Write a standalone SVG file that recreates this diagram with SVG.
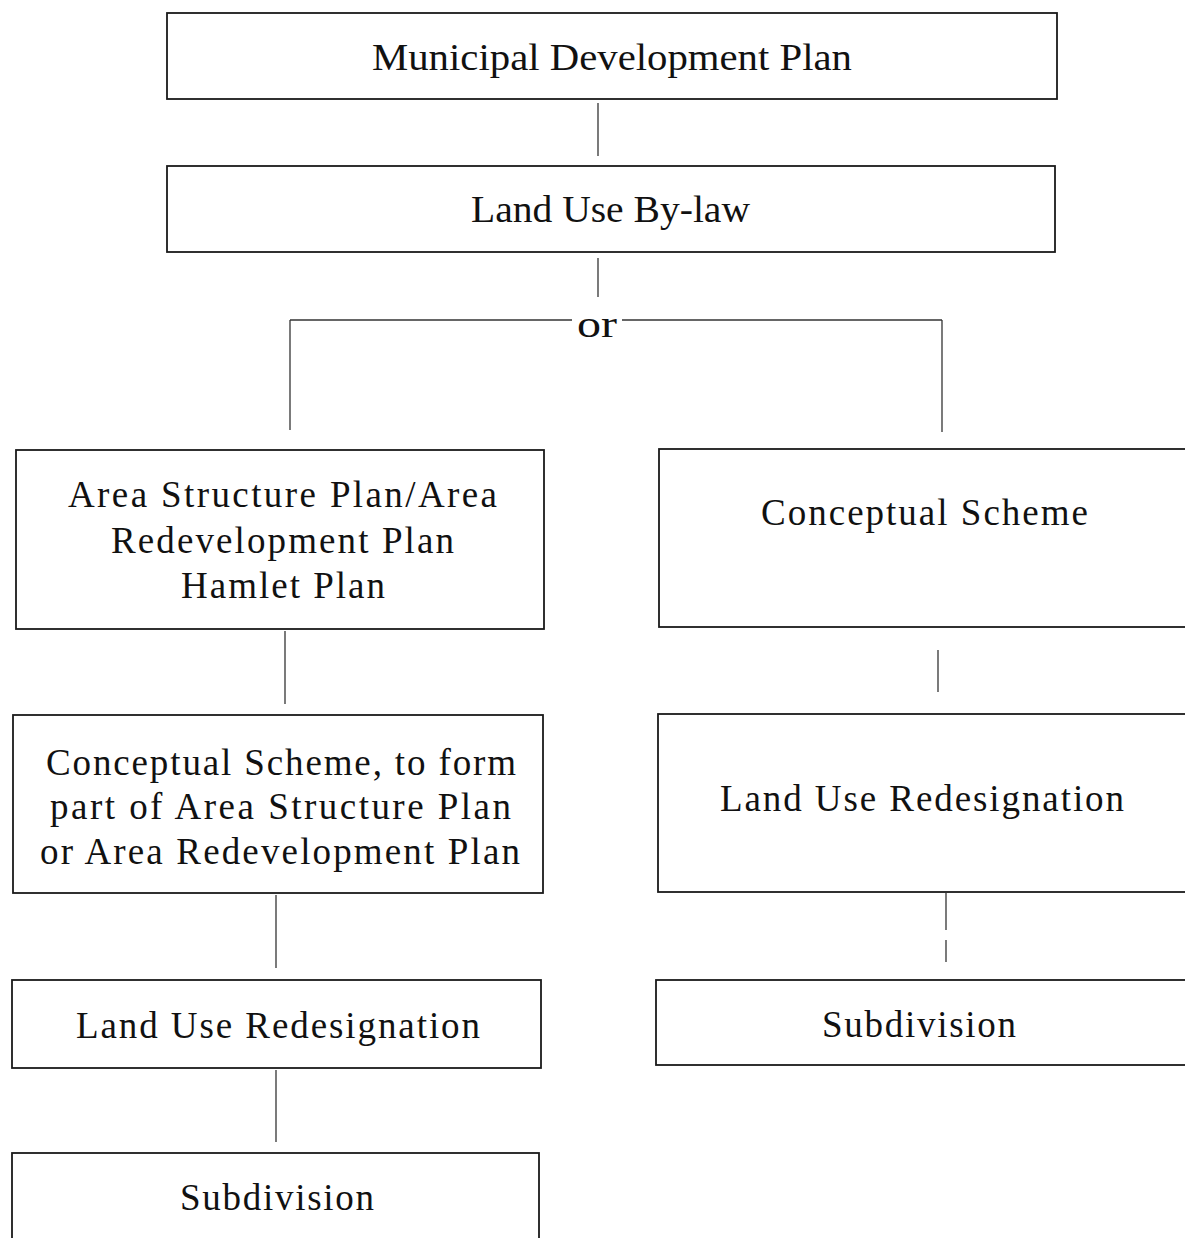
<svg xmlns="http://www.w3.org/2000/svg" width="1185" height="1238" viewBox="0 0 1185 1238">
<style>
.box{fill:#fff;stroke:#1a1a1a;stroke-width:1.8}
.t{font-family:"Liberation Serif","Times New Roman",serif;font-size:37px;fill:#111;text-anchor:start}
.c{stroke:#333;stroke-width:1.3;fill:none}
</style>
<rect x="0" y="0" width="1185" height="1238" fill="#fff"/>
<g id="connectors">
<line class="c" x1="598" y1="103" x2="598" y2="156"/>
<line class="c" x1="598" y1="258" x2="598" y2="297"/>
<line class="c" x1="290" y1="320" x2="572" y2="320"/>
<line class="c" x1="622" y1="320" x2="942" y2="320"/>
<line class="c" x1="290" y1="320" x2="290" y2="430"/>
<line class="c" x1="942" y1="320" x2="942" y2="432"/>
<line class="c" x1="285" y1="631" x2="285" y2="704"/>
<line class="c" x1="938" y1="650" x2="938" y2="692"/>
<line class="c" x1="276" y1="895" x2="276" y2="968"/>
<line class="c" x1="946" y1="893" x2="946" y2="930"/>
<line class="c" x1="946" y1="940" x2="946" y2="962"/>
<line class="c" x1="276" y1="1070" x2="276" y2="1142"/>
<text class="t" x="577" y="337" font-size="48" textLength="40" lengthAdjust="spacingAndGlyphs">or</text>
</g>
<g id="mdp">
<rect class="box" x="167" y="13" width="890" height="86"/>
<text class="t" x="372" y="70" font-size="41" textLength="480" lengthAdjust="spacingAndGlyphs">Municipal Development Plan</text>
</g>
<g id="lub">
<rect class="box" x="167" y="166" width="888" height="86"/>
<text class="t" x="471" y="222" font-size="38" textLength="279" lengthAdjust="spacingAndGlyphs">Land Use By-law</text>
</g>
<g id="asp">
<rect class="box" x="16" y="450" width="528" height="179"/>
<text class="t" x="68" y="507" textLength="429" lengthAdjust="spacing">Area Structure Plan/Area</text>
<text class="t" x="111" y="553" textLength="343" lengthAdjust="spacing">Redevelopment Plan</text>
<text class="t" x="181" y="598" textLength="204" lengthAdjust="spacing">Hamlet Plan</text>
</g>
<g id="cs-right">
<rect class="box" x="659" y="449" width="540" height="178"/>
<text class="t" x="761" y="525" textLength="327" lengthAdjust="spacing">Conceptual Scheme</text>
</g>
<g id="cs-left">
<rect class="box" x="13" y="715" width="530" height="178"/>
<text class="t" x="46" y="775" textLength="470" lengthAdjust="spacing">Conceptual Scheme, to form</text>
<text class="t" x="50" y="819" textLength="461" lengthAdjust="spacing">part of Area Structure Plan</text>
<text class="t" x="40" y="864" textLength="480" lengthAdjust="spacing">or Area Redevelopment Plan</text>
</g>
<g id="lur-right">
<rect class="box" x="658" y="714" width="540" height="178"/>
<text class="t" x="720" y="811" textLength="404" lengthAdjust="spacing">Land Use Redesignation</text>
</g>
<g id="lur-left">
<rect class="box" x="12" y="980" width="529" height="88"/>
<text class="t" x="76" y="1038" textLength="404" lengthAdjust="spacing">Land Use Redesignation</text>
</g>
<g id="sub-right">
<rect class="box" x="656" y="980" width="540" height="85"/>
<text class="t" x="822" y="1037" textLength="194" lengthAdjust="spacing">Subdivision</text>
</g>
<g id="sub-left">
<rect class="box" x="12" y="1153" width="527" height="100"/>
<text class="t" x="180" y="1210" textLength="194" lengthAdjust="spacing">Subdivision</text>
</g>
</svg>
